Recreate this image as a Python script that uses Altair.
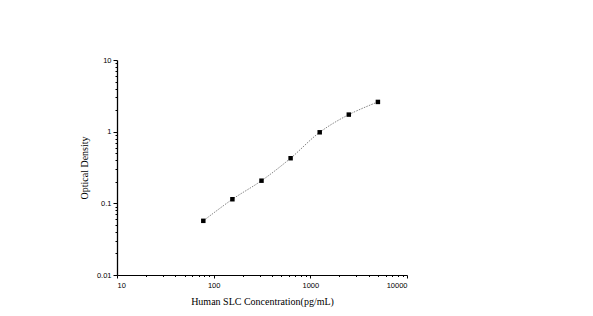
import altair as alt
import pandas as pd

# Data
concentration = [78.125, 156.25, 312.5, 625, 1250, 2500, 5000]
optical_density = [0.057, 0.114, 0.207, 0.426, 0.98, 1.73, 2.60]

x_major = [10, 100, 1000, 10000]
y_major = [0.01, 0.1, 1, 10]
x_minor = [m * d for d in [10, 100, 1000] for m in range(2, 10)]
y_minor = [m * d for d in [0.01, 0.1, 1] for m in range(2, 10)]

df = pd.DataFrame({"conc": concentration, "od": optical_density})

xscale = alt.Scale(type="log", domain=[10, 10000], nice=False)
yscale = alt.Scale(type="log", domain=[0.01, 10], nice=False)

label_font = "Liberation Sans"
title_font = "Liberation Serif"

is_major = "abs(log(datum.value)/LN10 - round(log(datum.value)/LN10)) < 1e-6"

x_axis = alt.Axis(
    orient="bottom", values=sorted(x_major + x_minor), format="d",
    labelExpr=f"({is_major}) ? datum.label : ''",
    tickSize={"condition": {"test": is_major, "value": 3}, "value": 1.5},
    tickWidth=1, domainColor="black", domainWidth=1, tickColor="black", grid=False,
    labelFont=label_font, labelFontSize=7.5, labelColor="black", labelPadding=3,
    labelOverlap=False, labelBound=False,
    title="Human SLC Concentration(pg/mL)", titleFont=title_font,
    titleFontSize=10, titleFontWeight="normal", titleColor="black", titlePadding=8,
)
y_axis = alt.Axis(
    orient="left", values=sorted(y_major + y_minor), format="~g",
    labelExpr=f"({is_major}) ? datum.label : ''",
    tickSize={"condition": {"test": is_major, "value": 4}, "value": 2},
    tickWidth=1, domainColor="black", domainWidth=1.3, tickColor="black", grid=False,
    labelFont=label_font, labelFontSize=7.5, labelColor="black", labelPadding=2,
    labelOverlap=False, labelBound=False,
    title="Optical Density", titleFont=title_font, titleFontSize=10,
    titleFontWeight="normal", titleColor="black", titlePadding=7,
)

base = alt.Chart(df).encode(
    x=alt.X("conc:Q", scale=xscale, axis=x_axis),
    y=alt.Y("od:Q", scale=yscale, axis=y_axis),
)

line = base.mark_line(
    interpolate="catmull-rom", color="#777777", strokeWidth=0.9, strokeDash=[1.5, 1.2]
)
points = base.mark_square(size=20, color="black", opacity=1)

chart = alt.layer(line, points).properties(
    width=290,
    height=215,
    autosize=alt.AutoSizeParams(type="none"),
    padding={"left": 109, "top": 52, "right": 170, "bottom": 38},
    background="white",
).configure_view(stroke="white", strokeWidth=3)

chart.save("out.html", embed_options={"renderer": "svg", "actions": False})
